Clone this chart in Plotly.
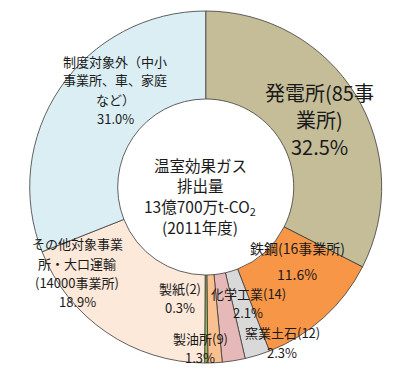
import plotly.graph_objects as go

# ---- data ----
categories = ["発電所", "鉄鋼", "窯業土石", "化学工業", "製油所", "製紙", "その他対象事業所・大口運輸", "制度対象外"]
values = [32.5, 11.6, 2.3, 2.1, 1.3, 0.3, 18.9, 31.0]
label_lines = [
    ["発電所(85事", "業所)"],
    ["鉄鋼(16事業所)"],
    ["窯業土石(12)"],
    ["化学工業(14)"],
    ["製油所(9)"],
    ["製紙(2)"],
    ["その他対象事業", "所・大口運輸", "(14000事業所)"],
    ["制度対象外（中小", "事業所、車、家庭", "など）"],
]
colors = ["#c4bd97", "#f79646", "#d9d9d9", "#e6b9b8", "#fac090", "#9bbb59", "#fde9d9", "#dbeef4"]
center_lines = ["温室効果ガス", "排出量", "13億700万t-CO<sub>2</sub>", "(2011年度)"]

W, H = 411, 368
FONT = "Noto Sans CJK JP, Noto Sans, sans-serif"

# label layout (pixels): x centre, y of each line (last one = percentage), font size
label_x = [319, 297, 282, 248, 200, 180, 77, 115]
label_y = [
    [92, 119, 147],
    [248, 274],
    [332, 352],
    [293, 312],
    [338, 357],
    [288, 307],
    [244, 263, 282, 301],
    [61, 80, 99, 118],
]
sizes = [20, 14, 13, 13, 13, 13, 13, 13]
center_x, center_y = 200, [165, 185, 207, 227]

cx, cy, r = 205.7, 187, 176

fig = go.Figure(go.Pie(
    labels=categories,
    values=values,
    sort=False,
    direction="clockwise",
    rotation=0,
    hole=0.5,
    marker=dict(colors=colors, line=dict(color="#3a3a3a", width=0.8)),
    textinfo="none",
    hoverinfo="label+percent",
    domain=dict(x=[(cx - r) / W, (cx + r) / W], y=[(H - (cy + r)) / H, (H - (cy - r)) / H]),
    showlegend=False,
))


def ann(text, x, y, size):
    return dict(x=x / W, y=1 - y / H, xref="paper", yref="paper", text=text,
                showarrow=False, xanchor="center", yanchor="middle",
                font=dict(family=FONT, size=size, color="#1a1a1a"))


anns = []
for i in range(len(categories)):
    texts = label_lines[i] + [f"{values[i]:.1f}%"]
    for t, y in zip(texts, label_y[i]):
        anns.append(ann(t, label_x[i], y, sizes[i]))

for t, y in zip(center_lines, center_y):
    anns.append(ann(t, center_x, y, 15.5))

fig.update_layout(
    width=W, height=H,
    margin=dict(l=0, r=0, t=0, b=0),
    paper_bgcolor="white",
    plot_bgcolor="white",
    annotations=anns,
)

fig.write_html("out.html", config={"displayModeBar": False},
               post_script="document.body.style.margin='0';document.body.style.overflow='hidden';")
